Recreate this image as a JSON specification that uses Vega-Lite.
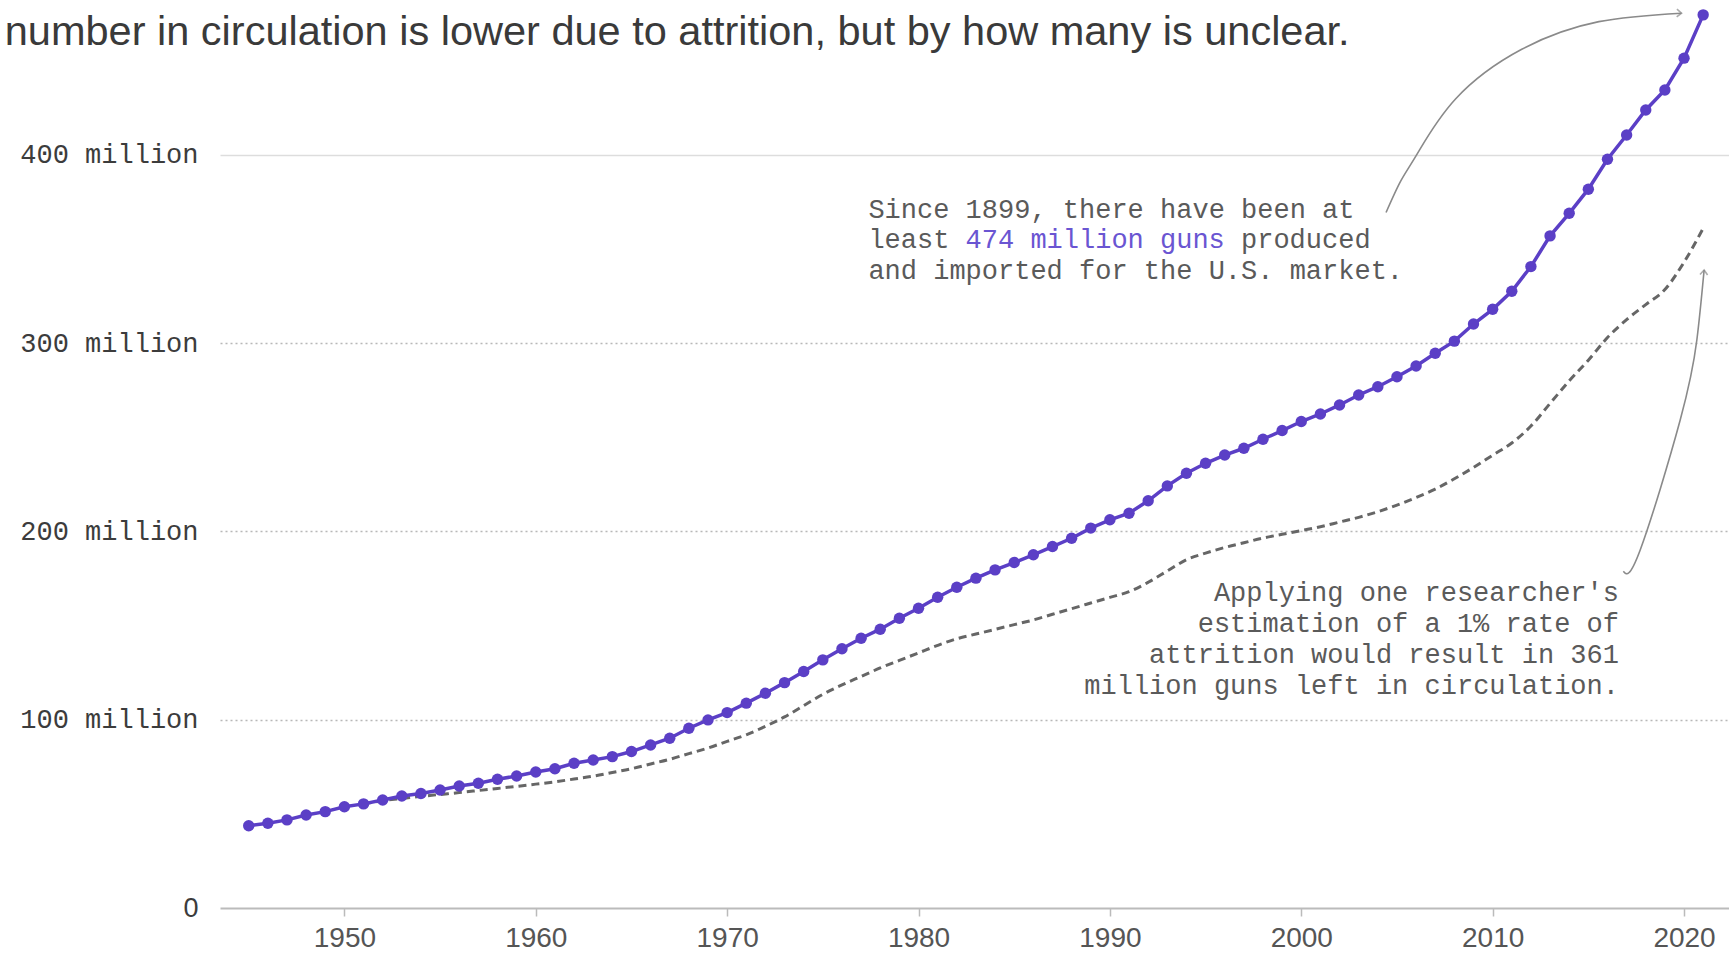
{
  "$schema": "https://vega.github.io/schema/vega-lite/v6.json",
  "width": 1509,
  "height": 908,
  "autosize": "none",
  "padding": {"left": 220, "top": 0, "right": 0, "bottom": 46},
  "background": "white",
  "title": {
    "text": "number in circulation is lower due to attrition, but by how many is unclear.",
    "anchor": "start",
    "dx": -15,
    "dy": 86,
    "offset": 0,
    "baseline": "alphabetic",
    "font": "Liberation Sans",
    "fontSize": 41.5,
    "fontWeight": "normal",
    "color": "#3a3a3a"
  },
  "config": {"view": {"stroke": null}},
  "datasets": {
    "guns": [
      {"year": 1945, "total": 43.7}, {"year": 1946, "total": 45.0}, {"year": 1947, "total": 46.8},
      {"year": 1948, "total": 49.4}, {"year": 1949, "total": 51.2}, {"year": 1950, "total": 53.8},
      {"year": 1951, "total": 55.3}, {"year": 1952, "total": 57.4}, {"year": 1953, "total": 59.5},
      {"year": 1954, "total": 60.8}, {"year": 1955, "total": 62.7}, {"year": 1956, "total": 64.8},
      {"year": 1957, "total": 66.3}, {"year": 1958, "total": 68.4}, {"year": 1959, "total": 70.1},
      {"year": 1960, "total": 72.2}, {"year": 1961, "total": 74.0}, {"year": 1962, "total": 76.9},
      {"year": 1963, "total": 78.6}, {"year": 1964, "total": 80.4}, {"year": 1965, "total": 83.1},
      {"year": 1966, "total": 86.6}, {"year": 1967, "total": 90.2}, {"year": 1968, "total": 95.5},
      {"year": 1969, "total": 99.9}, {"year": 1970, "total": 103.8}, {"year": 1971, "total": 108.8},
      {"year": 1972, "total": 114.1}, {"year": 1973, "total": 119.7}, {"year": 1974, "total": 125.6},
      {"year": 1975, "total": 131.8}, {"year": 1976, "total": 137.7}, {"year": 1977, "total": 143.3},
      {"year": 1978, "total": 148.1}, {"year": 1979, "total": 153.9}, {"year": 1980, "total": 159.2},
      {"year": 1981, "total": 165.1}, {"year": 1982, "total": 170.4}, {"year": 1983, "total": 175.2},
      {"year": 1984, "total": 179.6}, {"year": 1985, "total": 183.5}, {"year": 1986, "total": 187.6},
      {"year": 1987, "total": 192.0}, {"year": 1988, "total": 196.4}, {"year": 1989, "total": 201.8},
      {"year": 1990, "total": 206.2}, {"year": 1991, "total": 209.7}, {"year": 1992, "total": 216.3},
      {"year": 1993, "total": 224.2}, {"year": 1994, "total": 230.9}, {"year": 1995, "total": 236.2},
      {"year": 1996, "total": 240.6}, {"year": 1997, "total": 244.2}, {"year": 1998, "total": 249.0},
      {"year": 1999, "total": 253.6}, {"year": 2000, "total": 258.4}, {"year": 2001, "total": 262.4},
      {"year": 2002, "total": 267.2}, {"year": 2003, "total": 272.5}, {"year": 2004, "total": 276.9},
      {"year": 2005, "total": 282.2}, {"year": 2006, "total": 287.9}, {"year": 2007, "total": 294.7},
      {"year": 2008, "total": 301.1}, {"year": 2009, "total": 310.2}, {"year": 2010, "total": 318.0},
      {"year": 2011, "total": 327.6}, {"year": 2012, "total": 340.7}, {"year": 2013, "total": 357.0},
      {"year": 2014, "total": 369.0}, {"year": 2015, "total": 381.8}, {"year": 2016, "total": 397.7},
      {"year": 2017, "total": 410.6}, {"year": 2018, "total": 423.9}, {"year": 2019, "total": 434.5},
      {"year": 2020, "total": 451.4}, {"year": 2021, "total": 474.4}
    ],
    "attrition": [
      {"year": 1951, "est": 55.3}, {"year": 1952, "est": 57.0}, {"year": 1953, "est": 58.2},
      {"year": 1954, "est": 59.3}, {"year": 1955, "est": 60.3}, {"year": 1956, "est": 61.3},
      {"year": 1957, "est": 62.4}, {"year": 1958, "est": 63.5}, {"year": 1959, "est": 64.6},
      {"year": 1960, "est": 65.8}, {"year": 1961, "est": 67.0}, {"year": 1962, "est": 68.5},
      {"year": 1963, "est": 70.0}, {"year": 1964, "est": 72.0}, {"year": 1965, "est": 74.0},
      {"year": 1966, "est": 76.5}, {"year": 1967, "est": 79.0}, {"year": 1968, "est": 82.0},
      {"year": 1969, "est": 85.0}, {"year": 1970, "est": 88.5}, {"year": 1971, "est": 92.0},
      {"year": 1972, "est": 96.5}, {"year": 1973, "est": 101.5}, {"year": 1974, "est": 107.5},
      {"year": 1975, "est": 113.5}, {"year": 1976, "est": 118.5}, {"year": 1977, "est": 123.0},
      {"year": 1978, "est": 127.5}, {"year": 1979, "est": 131.5}, {"year": 1980, "est": 135.5},
      {"year": 1981, "est": 139.5}, {"year": 1982, "est": 143.0}, {"year": 1983, "est": 145.5},
      {"year": 1984, "est": 148.0}, {"year": 1985, "est": 150.5}, {"year": 1986, "est": 153.0},
      {"year": 1987, "est": 156.0}, {"year": 1988, "est": 159.0}, {"year": 1989, "est": 162.0},
      {"year": 1990, "est": 165.0}, {"year": 1991, "est": 168.0}, {"year": 1992, "est": 173.0},
      {"year": 1993, "est": 179.0}, {"year": 1994, "est": 185.0}, {"year": 1995, "est": 188.5},
      {"year": 1996, "est": 191.5}, {"year": 1997, "est": 194.0}, {"year": 1998, "est": 196.5},
      {"year": 1999, "est": 198.5}, {"year": 2000, "est": 200.5}, {"year": 2001, "est": 202.5},
      {"year": 2002, "est": 205.0}, {"year": 2003, "est": 207.5}, {"year": 2004, "est": 210.5},
      {"year": 2005, "est": 214.0}, {"year": 2006, "est": 218.0}, {"year": 2007, "est": 222.5},
      {"year": 2008, "est": 228.0}, {"year": 2009, "est": 234.0}, {"year": 2010, "est": 240.5},
      {"year": 2011, "est": 247.0}, {"year": 2012, "est": 256.0}, {"year": 2013, "est": 268.0},
      {"year": 2014, "est": 280.0}, {"year": 2015, "est": 291.0}, {"year": 2016, "est": 303.0},
      {"year": 2017, "est": 312.5}, {"year": 2018, "est": 320.5}, {"year": 2019, "est": 328.5},
      {"year": 2020, "est": 343.0}, {"year": 2021, "est": 361.0}
    ],
    "arrow1": [
      {"year": 2004.43, "v": 369.4}, {"year": 2005.18, "v": 385.8}, {"year": 2006.05, "v": 400.4},
      {"year": 2008.06, "v": 429.7}, {"year": 2011.52, "v": 456.1}, {"year": 2015.55, "v": 470.8},
      {"year": 2019.87, "v": 475.3}
    ],
    "arrow2": [
      {"year": 2016.83, "v": 178.9}, {"year": 2017.71, "v": 190.2}, {"year": 2019.8, "v": 259.2},
      {"year": 2020.67, "v": 301.7}, {"year": 2021.05, "v": 338.9}
    ]
  },
  "layer": [
    {
      "data": {"name": "attrition"},
      "mark": {"type": "line", "color": "#666666", "strokeWidth": 3, "strokeDash": [8, 5], "interpolate": "monotone"},
      "encoding": {
        "x": {
          "field": "year", "type": "quantitative",
          "scale": {"domain": [1943.5, 2022.35], "nice": false, "zero": false},
          "axis": {
            "values": [1950, 1960, 1970, 1980, 1990, 2000, 2010, 2020],
            "format": "d", "title": null, "grid": false,
            "labelFont": "Liberation Sans", "labelFontSize": 28, "labelColor": "#555555",
            "tickColor": "#bbbbbb", "tickSize": 8, "tickWidth": 1.5,
            "domainColor": "#bbbbbb", "domainWidth": 2, "labelPadding": 8
          }
        },
        "y": {
          "field": "est", "type": "quantitative",
          "scale": {"domain": [0, 482.3], "nice": false},
          "axis": {
            "values": [0, 100, 200, 300, 400],
            "labelExpr": "datum.value == 0 ? '0' : datum.value + ' million'",
            "title": null, "domain": false, "ticks": false, "labelPadding": 22,
            "labelFont": {"condition": {"test": "datum.value == 0", "value": "Liberation Sans"}, "value": "Liberation Mono"},
            "labelFontSize": 27, "labelColor": "#3c3c3c",
            "gridColor": {"condition": {"test": "datum.value == 400", "value": "#dddddd"}, "value": "#b8b8b8"},
            "gridWidth": 1.5,
            "gridDash": {"condition": {"test": "datum.value == 400", "value": []}, "value": [2, 3]},
            "gridOpacity": {"condition": {"test": "datum.value == 0", "value": 0}, "value": 1}
          }
        }
      }
    },
    {
      "data": {"name": "guns"},
      "mark": {"type": "line", "color": "#5b3fc6", "strokeWidth": 3.5,
               "point": {"filled": true, "size": 130, "color": "#5b3fc6"}},
      "encoding": {
        "x": {"field": "year", "type": "quantitative"},
        "y": {"field": "total", "type": "quantitative"}
      }
    },
    {
      "data": {"name": "arrow1"},
      "mark": {"type": "line", "color": "#8a8a8a", "strokeWidth": 1.6, "interpolate": "natural"},
      "encoding": {
        "x": {"field": "year", "type": "quantitative"},
        "y": {"field": "v", "type": "quantitative"}
      }
    },
    {
      "data": {"name": "arrow2"},
      "mark": {"type": "line", "color": "#8a8a8a", "strokeWidth": 1.6, "interpolate": "natural"},
      "encoding": {
        "x": {"field": "year", "type": "quantitative"},
        "y": {"field": "v", "type": "quantitative"}
      }
    },
    {
      "data": {"values": [{"year": 2019.87, "v": 475.3, "a": 2}, {"year": 2021.05, "v": 338.9, "a": 274}]},
      "mark": {"type": "point", "shape": "M-1,-0.8L0,0L-1,0.8", "filled": false, "stroke": "#8a8a8a", "strokeWidth": 1.6, "size": 90},
      "encoding": {
        "x": {"field": "year", "type": "quantitative"},
        "y": {"field": "v", "type": "quantitative"},
        "angle": {"field": "a", "type": "quantitative", "scale": null}
      }
    },
    {
      "data": {"values": [
        {"year": 1977.38, "v": 371.0, "t": "Since 1899, there have been at"},
        {"year": 1977.38, "v": 354.6, "t": "least"},
        {"year": 1977.38, "v": 338.2, "t": "and imported for the U.S. market."}
      ]},
      "mark": {"type": "text", "align": "left", "baseline": "middle", "font": "Liberation Mono", "fontSize": 27, "color": "#5a5a5a"},
      "encoding": {
        "x": {"field": "year", "type": "quantitative"},
        "y": {"field": "v", "type": "quantitative"},
        "text": {"field": "t"}
      }
    },
    {
      "data": {"values": [{"year": 1977.38, "v": 354.6, "t": "474 million guns"}]},
      "mark": {"type": "text", "align": "left", "baseline": "middle", "font": "Liberation Mono", "fontSize": 27, "color": "#6a55d2", "dx": 97.2},
      "encoding": {
        "x": {"field": "year", "type": "quantitative"},
        "y": {"field": "v", "type": "quantitative"},
        "text": {"field": "t"}
      }
    },
    {
      "data": {"values": [{"year": 1977.38, "v": 354.6, "t": "produced"}]},
      "mark": {"type": "text", "align": "left", "baseline": "middle", "font": "Liberation Mono", "fontSize": 27, "color": "#5a5a5a", "dx": 372.6},
      "encoding": {
        "x": {"field": "year", "type": "quantitative"},
        "y": {"field": "v", "type": "quantitative"},
        "text": {"field": "t"}
      }
    },
    {
      "data": {"values": [
        {"year": 2016.6, "v": 167.2, "t": "Applying one researcher's"},
        {"year": 2016.6, "v": 150.8, "t": "estimation of a 1% rate of"},
        {"year": 2016.6, "v": 134.4, "t": "attrition would result in 361"},
        {"year": 2016.6, "v": 118.0, "t": "million guns left in circulation."}
      ]},
      "mark": {"type": "text", "align": "right", "baseline": "middle", "font": "Liberation Mono", "fontSize": 27, "color": "#5a5a5a"},
      "encoding": {
        "x": {"field": "year", "type": "quantitative"},
        "y": {"field": "v", "type": "quantitative"},
        "text": {"field": "t"}
      }
    }
  ]
}
